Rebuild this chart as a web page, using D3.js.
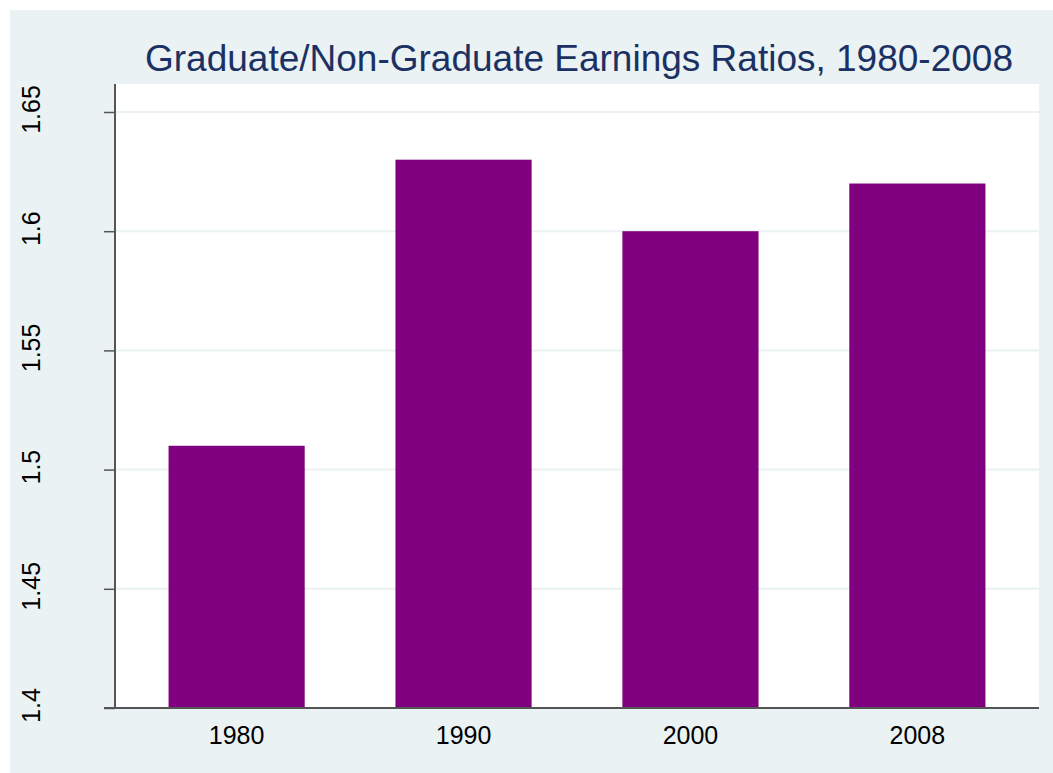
<!DOCTYPE html>
<html>
<head>
<meta charset="utf-8">
<script src="https://cdn.jsdelivr.net/npm/d3@7"></script>
<style>
  body { margin: 0; background: #fff; }
  svg { display: block; font-family: "Liberation Sans", Arial, sans-serif; }
</style>
</head>
<body>
<svg id="chart" width="1053" height="773"></svg>
<script>
const title = "Graduate/Non-Graduate Earnings Ratios, 1980-2008";
const years = ["1980", "1990", "2000", "2008"];
const ratios = [1.51, 1.63, 1.60, 1.62];
const yTicks = [1.4, 1.45, 1.5, 1.55, 1.6, 1.65];

const colors = {
  graphBg: "#eaf2f3",
  plotBg: "#ffffff",
  grid: "#eaf2f3",
  axis: "#555555",
  bar: "#800080",
  title: "#1c3163",
  text: "#000000",
};

const plot = { left: 115, right: 1039, top: 84, bottom: 708 };

const svg = d3.select("#chart");

// graph region
svg.append("rect")
  .attr("x", 10).attr("y", 10)
  .attr("width", 1043).attr("height", 763)
  .attr("fill", colors.graphBg);

svg.append("rect")
  .attr("x", plot.left).attr("y", plot.top)
  .attr("width", plot.right - plot.left)
  .attr("height", plot.bottom - plot.top)
  .attr("fill", colors.plotBg);

const x = d3.scaleBand()
  .domain(years)
  .range([plot.left, plot.right])
  .paddingInner(0.4)
  .paddingOuter(0.236);

const y = d3.scaleLinear()
  .domain([1.4, 1.65])
  .range([plot.bottom, 112]);

// gridlines
svg.append("g")
  .selectAll("line")
  .data(yTicks.filter(d => d > 1.4))
  .join("line")
  .attr("x1", plot.left).attr("x2", plot.right)
  .attr("y1", d => y(d)).attr("y2", d => y(d))
  .attr("stroke", colors.grid)
  .attr("stroke-width", 2);

// bars
svg.append("g")
  .selectAll("rect")
  .data(years.map((yr, i) => ({ yr, v: ratios[i] })))
  .join("rect")
  .attr("x", d => x(d.yr))
  .attr("y", d => y(d.v))
  .attr("width", x.bandwidth())
  .attr("height", d => y(1.4) - y(d.v))
  .attr("fill", colors.bar);

// y axis
const yAxis = svg.append("g")
  .attr("transform", `translate(${plot.left},0)`)
  .call(d3.axisLeft(y).tickValues(yTicks).tickSize(11).tickPadding(0).tickFormat(d3.format("")));
yAxis.select(".domain").remove();
yAxis.selectAll(".tick line").attr("stroke", colors.axis).attr("stroke-width", 1.5);
yAxis.selectAll(".tick text").remove();
yAxis.selectAll(".tick")
  .append("text")
  .attr("transform", "translate(-75,-3) rotate(-90)")
  .attr("text-anchor", "middle")
  .attr("fill", colors.text)
  .style("font-size", "25px")
  .style("font-family", "Liberation Sans, Arial, sans-serif")
  .text(d => d3.format("")(d));

svg.append("line")
  .attr("x1", plot.left).attr("x2", plot.left)
  .attr("y1", plot.top).attr("y2", plot.bottom)
  .attr("stroke", colors.axis).attr("stroke-width", 2);

// x axis
const xAxis = svg.append("g")
  .attr("transform", `translate(0,${plot.bottom})`)
  .call(d3.axisBottom(x).tickSize(0).tickPadding(0));
xAxis.select(".domain").remove();
xAxis.selectAll(".tick text")
  .attr("y", 36)
  .attr("dy", null)
  .attr("fill", colors.text)
  .style("font-size", "25px")
  .style("font-family", "Liberation Sans, Arial, sans-serif");

svg.append("line")
  .attr("x1", plot.left - 11).attr("x2", plot.right)
  .attr("y1", plot.bottom).attr("y2", plot.bottom)
  .attr("stroke", colors.axis).attr("stroke-width", 2);

// title
svg.append("text")
  .attr("x", 579)
  .attr("y", 71)
  .attr("text-anchor", "middle")
  .attr("fill", colors.title)
  .style("font-size", "37px")
  .text(title);
</script>
</body>
</html>
